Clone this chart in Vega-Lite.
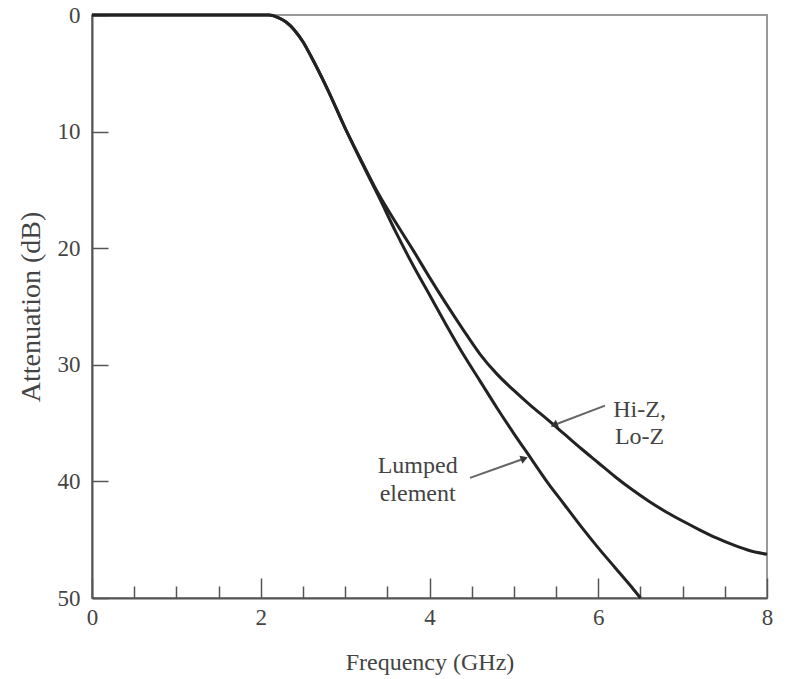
{
  "$schema": "https://vega.github.io/schema/vega-lite/v6.json",
  "width": 675,
  "height": 583,
  "autosize": "none",
  "padding": {"left": 92, "top": 15, "right": 20, "bottom": 81},
  "background": "white",
  "config": {
    "view": {"stroke": "#9a9a9a", "strokeWidth": 2},
    "font": "Liberation Serif",
    "axis": {
      "labelFont": "Liberation Serif",
      "titleFont": "Liberation Serif",
      "labelColor": "#444",
      "titleColor": "#444",
      "titleFontWeight": "normal",
      "domainColor": "#555",
      "domainWidth": 2,
      "tickColor": "#555",
      "tickWidth": 1.5,
      "grid": false
    }
  },
  "datasets": {
    "curves": [
      {"f": 0, "att": 0, "s": "Lumped element"},
      {"f": 1, "att": 0, "s": "Lumped element"},
      {"f": 2, "att": 0, "s": "Lumped element"},
      {"f": 2.1, "att": 0, "s": "Lumped element"},
      {"f": 2.2, "att": 0.2, "s": "Lumped element"},
      {"f": 2.3, "att": 0.6, "s": "Lumped element"},
      {"f": 2.4, "att": 1.3, "s": "Lumped element"},
      {"f": 2.5, "att": 2.3, "s": "Lumped element"},
      {"f": 2.6, "att": 3.6, "s": "Lumped element"},
      {"f": 2.8, "att": 6.5, "s": "Lumped element"},
      {"f": 3.0, "att": 9.7, "s": "Lumped element"},
      {"f": 3.2, "att": 12.7, "s": "Lumped element"},
      {"f": 3.4, "att": 15.6, "s": "Lumped element"},
      {"f": 3.6, "att": 18.6, "s": "Lumped element"},
      {"f": 3.8, "att": 21.4, "s": "Lumped element"},
      {"f": 4.0, "att": 24.0, "s": "Lumped element"},
      {"f": 4.2, "att": 26.6, "s": "Lumped element"},
      {"f": 4.4, "att": 29.1, "s": "Lumped element"},
      {"f": 4.6, "att": 31.4, "s": "Lumped element"},
      {"f": 4.8, "att": 33.7, "s": "Lumped element"},
      {"f": 5.0, "att": 35.9, "s": "Lumped element"},
      {"f": 5.2, "att": 38.0, "s": "Lumped element"},
      {"f": 5.4, "att": 40.1, "s": "Lumped element"},
      {"f": 5.6, "att": 42.0, "s": "Lumped element"},
      {"f": 5.8, "att": 43.9, "s": "Lumped element"},
      {"f": 6.0, "att": 45.7, "s": "Lumped element"},
      {"f": 6.2, "att": 47.4, "s": "Lumped element"},
      {"f": 6.4, "att": 49.1, "s": "Lumped element"},
      {"f": 6.5, "att": 50, "s": "Lumped element"},
      {"f": 0, "att": 0, "s": "Hi-Z, Lo-Z"},
      {"f": 1, "att": 0, "s": "Hi-Z, Lo-Z"},
      {"f": 2, "att": 0, "s": "Hi-Z, Lo-Z"},
      {"f": 2.1, "att": 0, "s": "Hi-Z, Lo-Z"},
      {"f": 2.2, "att": 0.2, "s": "Hi-Z, Lo-Z"},
      {"f": 2.3, "att": 0.6, "s": "Hi-Z, Lo-Z"},
      {"f": 2.4, "att": 1.3, "s": "Hi-Z, Lo-Z"},
      {"f": 2.5, "att": 2.3, "s": "Hi-Z, Lo-Z"},
      {"f": 2.6, "att": 3.6, "s": "Hi-Z, Lo-Z"},
      {"f": 2.8, "att": 6.5, "s": "Hi-Z, Lo-Z"},
      {"f": 3.0, "att": 9.7, "s": "Hi-Z, Lo-Z"},
      {"f": 3.2, "att": 12.6, "s": "Hi-Z, Lo-Z"},
      {"f": 3.4, "att": 15.4, "s": "Hi-Z, Lo-Z"},
      {"f": 3.6, "att": 17.8, "s": "Hi-Z, Lo-Z"},
      {"f": 3.8, "att": 20.1, "s": "Hi-Z, Lo-Z"},
      {"f": 4.0, "att": 22.5, "s": "Hi-Z, Lo-Z"},
      {"f": 4.2, "att": 24.8, "s": "Hi-Z, Lo-Z"},
      {"f": 4.4, "att": 27.0, "s": "Hi-Z, Lo-Z"},
      {"f": 4.6, "att": 29.1, "s": "Hi-Z, Lo-Z"},
      {"f": 4.8, "att": 30.8, "s": "Hi-Z, Lo-Z"},
      {"f": 5.0, "att": 32.2, "s": "Hi-Z, Lo-Z"},
      {"f": 5.2, "att": 33.5, "s": "Hi-Z, Lo-Z"},
      {"f": 5.4, "att": 34.7, "s": "Hi-Z, Lo-Z"},
      {"f": 5.6, "att": 35.95, "s": "Hi-Z, Lo-Z"},
      {"f": 5.8, "att": 37.2, "s": "Hi-Z, Lo-Z"},
      {"f": 6.0, "att": 38.4, "s": "Hi-Z, Lo-Z"},
      {"f": 6.2, "att": 39.6, "s": "Hi-Z, Lo-Z"},
      {"f": 6.4, "att": 40.7, "s": "Hi-Z, Lo-Z"},
      {"f": 6.6, "att": 41.7, "s": "Hi-Z, Lo-Z"},
      {"f": 6.8, "att": 42.6, "s": "Hi-Z, Lo-Z"},
      {"f": 7.0, "att": 43.4, "s": "Hi-Z, Lo-Z"},
      {"f": 7.2, "att": 44.15, "s": "Hi-Z, Lo-Z"},
      {"f": 7.4, "att": 44.85, "s": "Hi-Z, Lo-Z"},
      {"f": 7.6, "att": 45.45, "s": "Hi-Z, Lo-Z"},
      {"f": 7.8, "att": 45.95, "s": "Hi-Z, Lo-Z"},
      {"f": 8.0, "att": 46.25, "s": "Hi-Z, Lo-Z"}
    ],
    "labels": [
      {"f": 6.49, "att": 33.9, "text": "Hi-Z,"},
      {"f": 6.49, "att": 36.2, "text": "Lo-Z"},
      {"f": 3.86, "att": 38.7, "text": "Lumped"},
      {"f": 3.86, "att": 41.1, "text": "element"}
    ],
    "arrows": [
      {"f": 6.08, "att": 33.5, "f2": 5.5, "att2": 35.1, "s": "Hi-Z, Lo-Z"},
      {"f": 4.48, "att": 39.7, "f2": 5.1, "att2": 38.1, "s": "Lumped element"}
    ],
    "heads": [
      {"f": 5.49, "att": 35.13, "s": "Hi-Z, Lo-Z"},
      {"f": 5.11, "att": 38.07, "s": "Lumped element"}
    ]
  },
  "layer": [
    {
      "data": {"name": "curves"},
      "mark": {"type": "line", "interpolate": "monotone", "color": "#222", "strokeWidth": 3},
      "encoding": {
        "x": {
          "field": "f", "type": "quantitative",
          "scale": {"domain": [0, 8], "nice": false},
          "axis": {
            "title": "Frequency (GHz)",
            "values": [0, 0.5, 1, 1.5, 2, 2.5, 3, 3.5, 4, 4.5, 5, 5.5, 6, 6.5, 7, 7.5, 8],
            "labelExpr": "datum.value % 2 === 0 ? '' + datum.value : ''",
            "labelFlush": false,
            "labelOverlap": false,
            "tickSize": {"condition": {"test": "datum.value % 2 === 0", "value": -20}, "value": -12},
            "labelPadding": 28,
            "labelFontSize": 23,
            "titleFontSize": 24,
            "titlePadding": 13
          }
        },
        "y": {
          "field": "att", "type": "quantitative",
          "scale": {"domain": [0, 50], "reverse": true, "nice": false},
          "axis": {
            "title": "Attenuation (dB)",
            "values": [0, 10, 20, 30, 40, 50],
            "tickSize": -16,
            "labelPadding": 28,
            "labelFontSize": 23,
            "titleFontSize": 28,
            "titlePadding": 12
          }
        },
        "detail": {"field": "s"}
      }
    },
    {
      "data": {"name": "arrows"},
      "mark": {"type": "rule", "color": "#666", "strokeWidth": 2},
      "encoding": {
        "x": {"field": "f", "type": "quantitative"},
        "y": {"field": "att", "type": "quantitative"},
        "x2": {"field": "f2"},
        "y2": {"field": "att2"}
      }
    },
    {
      "data": {"name": "heads"},
      "transform": [{"filter": "datum.s === 'Hi-Z, Lo-Z'"}],
      "mark": {"type": "point", "shape": "triangle", "filled": true, "color": "#333", "opacity": 1, "size": 70, "angle": 248},
      "encoding": {
        "x": {"field": "f", "type": "quantitative"},
        "y": {"field": "att", "type": "quantitative"}
      }
    },
    {
      "data": {"name": "heads"},
      "transform": [{"filter": "datum.s === 'Lumped element'"}],
      "mark": {"type": "point", "shape": "triangle", "filled": true, "color": "#333", "opacity": 1, "size": 70, "angle": 69},
      "encoding": {
        "x": {"field": "f", "type": "quantitative"},
        "y": {"field": "att", "type": "quantitative"}
      }
    },
    {
      "data": {"name": "labels"},
      "mark": {"type": "text", "font": "Liberation Serif", "fontSize": 24, "color": "#444", "align": "center", "baseline": "middle"},
      "encoding": {
        "x": {"field": "f", "type": "quantitative"},
        "y": {"field": "att", "type": "quantitative"},
        "text": {"field": "text"}
      }
    }
  ]
}
